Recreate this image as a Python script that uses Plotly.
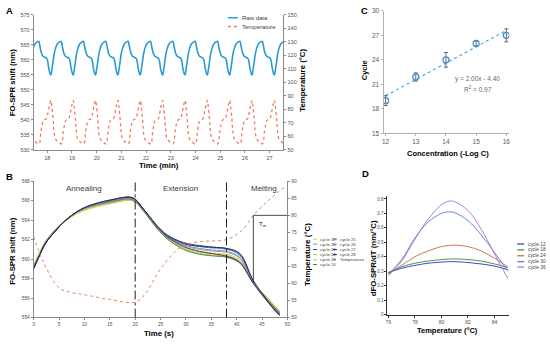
import plotly.graph_objects as go

W, H = 550, 344
def px(x): return x / W
def py(y): return 1 - y / H

FONT = "Liberation Sans, Arial, sans-serif"

# ---------------- Panel A data (raw FO-SPR signal over many cycles) ----------------
cycle_min_times_min = [17.245, 18.15, 19.055, 19.96, 20.865, 21.77, 22.675,
                       23.58, 24.485, 25.39, 26.295, 27.2]
raw_profile_s = [0, 2, 5, 6, 7.3, 9.3, 12, 15, 20, 24.5, 26.7, 29.4, 31.3,
                 34.5, 37.7, 41, 43, 45.6, 48.3, 50.8, 52.7]
raw_profile_nm = [555.0, 556.6, 559.3, 560.4, 561.7, 563.0, 564.3, 565.2, 565.9,
                  566.2, 565.0, 563.2, 562.2, 561.3, 561.0, 560.8, 560.6, 560.0,
                  557.6, 556.0, 555.2]
temp_profile_s = [0, 2, 5, 7, 10, 15, 20, 25, 27, 30, 33, 35, 38, 43, 46, 48, 51]
temp_profile_c = [86.7, 82, 73, 65, 58.7, 56.5, 55.2, 54.5, 55.5, 64, 69, 71.4,
                  72.4, 73, 76, 79, 83.5]
a_xticks = [18, 19, 20, 21, 22, 23, 24, 25, 26, 27]

# ---------------- Panel B data (cycles 19-28 overlaid) ----------------
b_time_s = [0, 1, 2.3, 4.3, 7, 10, 15.3, 19.5, 21.7, 24.4, 26.3, 29.5, 32.7,
            36, 38, 40.6, 43.3, 45.8, 47.7, 48.5]
b_cycle_names = ["cycle 19", "cycle 20", "cycle 21", "cycle 22", "cycle 23",
                 "cycle 24", "cycle 25", "cycle 26", "cycle 27", "cycle 28"]
b_cycle_values = [
    [559.4, 560.5, 561.8, 563.0, 564.2, 565.0, 565.7, 566.0, 564.9, 563.2, 562.2, 561.2, 560.8, 560.6, 560.5, 559.9, 557.6, 556.1, 555.0, 554.6],
    [559.2, 560.3, 561.7, 563.0, 564.3, 565.2, 565.9, 566.2, 565.0, 563.3, 562.4, 561.6, 561.3, 561.1, 561.0, 560.4, 557.7, 556.0, 554.8, 554.4],
    [559.0, 560.2, 561.6, 562.9, 564.3, 565.2, 566.0, 566.3, 565.1, 563.3, 562.4, 561.6, 561.3, 561.2, 561.1, 560.5, 557.7, 555.9, 554.7, 554.3],
    [559.3, 560.4, 561.7, 563.0, 564.2, 565.1, 565.8, 566.0, 564.9, 563.1, 562.1, 561.1, 560.6, 560.4, 560.3, 559.7, 557.5, 556.1, 555.0, 554.6],
    [559.4, 560.5, 561.8, 563.1, 564.3, 565.1, 565.8, 566.0, 564.9, 563.2, 562.2, 561.2, 560.7, 560.5, 560.4, 559.8, 557.6, 556.2, 555.1, 554.7],
    [559.2, 560.3, 561.7, 563.0, 564.3, 565.2, 565.9, 566.1, 564.9, 563.1, 562.1, 561.0, 560.5, 560.3, 560.2, 559.6, 557.5, 556.0, 554.9, 554.5],
    [559.1, 560.3, 561.7, 563.0, 564.3, 565.2, 565.9, 566.2, 565.0, 563.3, 562.3, 561.5, 561.1, 560.9, 560.8, 560.2, 557.6, 556.0, 554.8, 554.4],
    [559.2, 560.3, 561.7, 563.0, 564.3, 565.2, 566.0, 566.2, 565.0, 563.3, 562.3, 561.4, 561.0, 560.8, 560.7, 560.1, 557.6, 555.9, 554.7, 554.4],
    [559.1, 560.2, 561.6, 562.9, 564.3, 565.3, 566.1, 566.3, 565.1, 563.3, 562.3, 561.3, 560.8, 560.5, 560.3, 559.7, 557.5, 555.8, 554.7, 554.3],
    [559.0, 560.2, 561.6, 562.9, 564.3, 565.3, 566.1, 566.3, 565.1, 563.4, 562.5, 561.7, 561.4, 561.2, 561.1, 560.6, 557.8, 555.9, 554.6, 554.2],
]
b_colors = ["#d9cf3e", "#6d86c9", "#27358f", "#b9c43a", "#e0c040",
            "#2f7d3a", "#5d8f9e", "#9684c4", "#3a2c7a", "#1b2a4a"]
b_temp_s = [0, 2, 5, 7.5, 10, 15, 20, 22, 25, 28, 30, 33, 38, 41, 43.3, 46, 48.3, 49.8]
b_temp_c = [73.7, 66, 58.7, 57.3, 56.7, 55.3, 54.5, 57, 64.3, 69.5, 71.4, 72.3,
            72.9, 75.5, 80, 84, 87, 88.5]
phase_bounds_s = [20, 38]
phase_names = ["Annealing", "Extension", "Melting"]
tm_time_s = 43.3
tm_low_temp_c = 60.3
tm_temp_c = 80

# ---------------- Panel C data ----------------
c_conc = [12, 13, 14, 15, 16]
c_cycle = [19.0, 21.9, 24.0, 26.0, 27.0]
c_err = [0.6, 0.5, 0.9, 0.3, 0.8]
c_trend_x = [12, 16]
c_trend_y = [19.6, 27.6]

# ---------------- Panel D data ----------------
d_temp = [76, 77, 78, 79, 80, 80.6, 81, 82, 83, 84, 85]
d_names = ["cycle 12", "cycle 18", "cycle 24", "cycle 30", "cycle 36"]
d_values = [
    [0.29, 0.32, 0.34, 0.355, 0.363, 0.366, 0.366, 0.36, 0.35, 0.335, 0.31],
    [0.29, 0.33, 0.355, 0.37, 0.38, 0.384, 0.385, 0.38, 0.37, 0.35, 0.325],
    [0.28, 0.34, 0.40, 0.44, 0.47, 0.478, 0.48, 0.47, 0.44, 0.39, 0.33],
    [0.28, 0.38, 0.53, 0.64, 0.70, 0.71, 0.705, 0.65, 0.55, 0.43, 0.30],
    [0.27, 0.37, 0.52, 0.66, 0.76, 0.785, 0.78, 0.72, 0.59, 0.42, 0.25],
]
d_colors = ["#2b2bd6", "#2e8b2e", "#c8643c", "#4a7fd8", "#a070d0"]

fig = go.Figure()

# ---- Panel A traces ----
a_time, a_raw = [], []
for t0 in cycle_min_times_min:
    for s, v in zip(raw_profile_s, raw_profile_nm):
        a_time.append(t0 + s / 60.0)
        a_raw.append(v)
a_ttime, a_temp = [], []
for t0 in cycle_min_times_min:
    for s, v in zip(temp_profile_s, temp_profile_c):
        a_ttime.append(t0 + s / 60.0)
        a_temp.append(v)

fig.add_trace(go.Scatter(x=a_time, y=a_raw, mode="lines", name="Raw data",
                         line=dict(color="#2a9bd0", width=1.6, shape="spline"),
                         xaxis="x", yaxis="y"))
fig.add_trace(go.Scatter(x=a_ttime, y=a_temp, mode="lines", name="Temperature",
                         line=dict(color="#f07a5a", width=1.3, dash="dot", shape="spline"),
                         xaxis="x", yaxis="y2"))

# ---- Panel B traces ----
for name, vals, col in zip(b_cycle_names, b_cycle_values, b_colors):
    fig.add_trace(go.Scatter(x=b_time_s, y=vals, mode="lines", name=name,
                             line=dict(color=col, width=0.9, shape="spline"),
                             xaxis="x2", yaxis="y3"))
fig.add_trace(go.Scatter(x=b_temp_s, y=b_temp_c, mode="lines", name="Temperature",
                         line=dict(color="#d9895a", width=1.0, dash="dot", shape="spline"),
                         xaxis="x2", yaxis="y4"))

# ---- Panel C traces ----
fig.add_trace(go.Scatter(x=c_trend_x, y=c_trend_y, mode="lines",
                         line=dict(color="#3aa6d8", width=1.1, dash="dot"),
                         xaxis="x3", yaxis="y5"))
fig.add_trace(go.Scatter(x=c_conc, y=c_cycle, mode="markers",
                         marker=dict(symbol="circle-open", size=6, color="#4a90d0",
                                     line=dict(width=1.3, color="#4a90d0")),
                         error_y=dict(type="data", array=c_err, color="#404040",
                                      thickness=0.8, width=2),
                         xaxis="x3", yaxis="y5"))

# ---- Panel D traces ----
for name, vals, col in zip(d_names, d_values, d_colors):
    fig.add_trace(go.Scatter(x=d_temp, y=vals, mode="lines", name=name,
                             line=dict(color=col, width=0.9, shape="spline"),
                             xaxis="x4", yaxis="y6"))


def axis(linecolor="#8a8a8a", size=5.5, color="#505050", **kw):
    d = dict(showgrid=False, zeroline=False, showline=True, linecolor=linecolor,
             linewidth=1, ticks="outside", ticklen=2, tickwidth=1, tickcolor=linecolor,
             tickfont=dict(size=size, color=color, family=FONT), fixedrange=True)
    d.update(kw)
    return d


fig.update_layout(
    width=W, height=344, margin=dict(l=0, r=0, t=0, b=0),
    paper_bgcolor="white", plot_bgcolor="white", showlegend=False,
    font=dict(family=FONT),
    xaxis=axis(domain=[px(32), px(284)], anchor="y", range=[17.45, 27.56],
               tickvals=a_xticks),
    yaxis=axis(domain=[py(149), py(11)], anchor="x", range=[530, 575], dtick=5),
    yaxis2=axis(domain=[py(149), py(11)], anchor="x", overlaying="y", side="right",
                range=[50, 150], dtick=10),
    xaxis2=axis(domain=[px(32), px(288)], anchor="y3", range=[0, 50], dtick=5,
                size=4.8),
    yaxis3=axis(domain=[py(320), py(181)], anchor="x2", range=[554, 568], dtick=2,
                size=4.8),
    yaxis4=axis(domain=[py(320), py(181)], anchor="x2", overlaying="y3", side="right",
                range=[50, 90], dtick=5, size=4.8),
    xaxis3=axis(domain=[px(385), px(512)], anchor="y5", range=[11.93, 16.1],
                tickvals=c_conc, linecolor="#b0b0b0", size=6.5, color="#595959"),
    yaxis5=axis(domain=[py(132), py(7)], anchor="x3", range=[15, 30], dtick=3,
                linecolor="#b0b0b0", size=6.5, color="#595959"),
    xaxis4=axis(domain=[px(389), px(512)], anchor="y6", range=[75.93, 85.12],
                tickvals=[76, 78, 80, 82, 84], linecolor="#303030", size=5),
    yaxis6=axis(domain=[py(317), py(196)], anchor="x4", range=[0, 0.82], dtick=0.1,
                tickformat="~g", linecolor="#303030", size=4.6),
)

shapes = []
# Panel B phase boundaries
for b in phase_bounds_s:
    shapes.append(dict(type="line", xref="x2", yref="y3 domain", x0=b, x1=b, y0=0, y1=1,
                       line=dict(color="#202020", width=1, dash="dashdot")))
# Tm marker
shapes.append(dict(type="line", xref="x2", yref="y4", x0=tm_time_s, x1=tm_time_s,
                   y0=tm_low_temp_c, y1=tm_temp_c, line=dict(color="#202020", width=0.8)))
shapes.append(dict(type="line", xref="x2", yref="y4", x0=tm_time_s, x1=50,
                   y0=tm_temp_c, y1=tm_temp_c, line=dict(color="#202020", width=0.8)))

annotations = []
def text(x, y, s, size, color="#000000", bold=False, angle=0, xanchor="center"):
    annotations.append(dict(xref="paper", yref="paper", x=px(x), y=py(y),
                            text=f"<b>{s}</b>" if bold else s, showarrow=False,
                            textangle=angle, xanchor=xanchor, yanchor="middle",
                            font=dict(size=size, color=color, family=FONT)))

# panel letters
text(2, 7, "A", 9.5, bold=True, xanchor="left")
text(2, 176, "B", 9.5, bold=True, xanchor="left")
text(360, 7, "C", 9.5, bold=True, xanchor="left")
text(361, 173, "D", 9.5, bold=True, xanchor="left")

# Panel A titles
text(10, 80, "FO-SPR shift (nm)", 7.8, bold=True, angle=-90)
text(303, 78, "Temperature (°C)", 7.8, bold=True, angle=-90)
text(158, 165, "Time (min)", 7.8, bold=True)
# Panel A legend
leg_a = [("Raw data", "#2a9bd0", "solid", 14), ("Temperature", "#f07a5a", "dot", 23)]
for lab, col, dash, yy in leg_a:
    shapes.append(dict(type="line", xref="paper", yref="paper", x0=px(228), x1=px(238),
                       y0=py(yy), y1=py(yy), line=dict(color=col, width=1.5, dash=dash)))
    text(240, yy, lab, 6, color="#404040", xanchor="left")

# Panel B titles
text(11, 252, "FO-SPR shift (nm)", 7.8, bold=True, angle=-90)
text(309, 256, "Temperature (°C)", 7.8, bold=True, angle=-90)
text(158, 336, "Time (s)", 7.8, bold=True)
for lab, xx in zip(phase_names, [83, 180, 264]):
    text(xx, 188, lab, 8, color="#404040")
text(257, 225, "T<sub>m</sub>", 6, color="#202020", xanchor="left")
# Panel B legend
b_rows = [240, 245.2, 250.6, 255.8, 261, 266]
for i, (lab, col) in enumerate(zip(b_cycle_names, b_colors)):
    colx = 314 if i < 6 else 334
    yy = b_rows[i if i < 6 else i - 6]
    shapes.append(dict(type="line", xref="paper", yref="paper", x0=px(colx), x1=px(colx + 4),
                       y0=py(yy), y1=py(yy), line=dict(color=col, width=1)))
    text(colx + 5, yy, lab, 4.3, color="#404040", xanchor="left")
shapes.append(dict(type="line", xref="paper", yref="paper", x0=px(334), x1=px(338),
                   y0=py(b_rows[4]), y1=py(b_rows[4]), line=dict(color="#d9895a", width=1, dash="dot")))
text(339, b_rows[4], "Temperature", 4.3, color="#404040", xanchor="left")

# Panel C titles
text(366, 68, "Cycle", 7.5, bold=True, angle=-90)
text(450, 153, "Concentration (-Log C)", 7.5, bold=True)
text(480, 77, "y = 2.00x - 4.40", 6.5, color="#6a6a6a")
text(480, 87, "R<sup>2</sup> = 0.97", 6.5, color="#6a6a6a")

# Panel D titles
text(375, 260, "dFO-SPR/dT (nm/°C)", 7.8, bold=True, angle=-90)
text(450, 333, "Temperature (°C)", 7.5, bold=True)
d_rows = [245, 251, 257, 263, 268.5]
for lab, col, yy in zip(d_names, d_colors, d_rows):
    shapes.append(dict(type="line", xref="paper", yref="paper", x0=px(520), x1=px(527),
                       y0=py(yy), y1=py(yy), line=dict(color=col, width=1.2)))
    text(528.5, yy, lab, 4.8, color="#404040", xanchor="left")

fig.update_layout(shapes=shapes, annotations=annotations)
fig.write_html("out.html", config={"displayModeBar": False},
               post_script="document.body.style.margin='0';document.body.style.overflow='hidden';")
